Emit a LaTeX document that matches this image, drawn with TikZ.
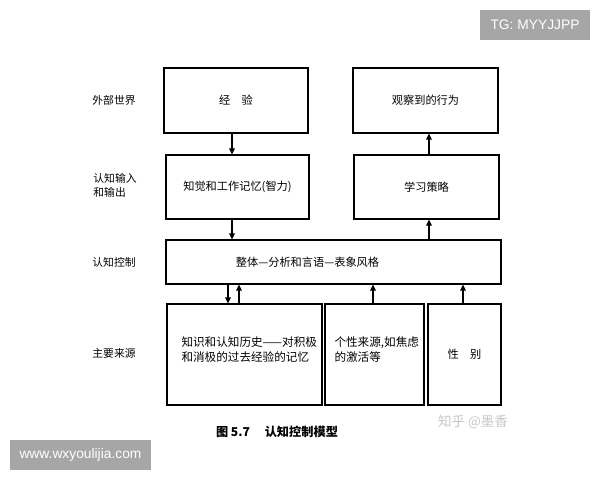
\documentclass[tikz,border=0pt]{standalone}
\usepackage{fontspec}
\newfontfamily\cjk{Noto Sans CJK SC}
\newfontfamily\wm{Liberation Sans}
\usetikzlibrary{arrows.meta,calc}
\tikzset{
  box/.style={draw=black,line width=1.1pt,inner sep=0pt,font=\cjk\fontsize{11.2}{15}\selectfont},
  arr/.style={line width=1.1pt,-{Triangle[length=6pt,width=5.5pt]}},
  lab/.style={font=\cjk\fontsize{10.8}{14}\selectfont,align=left},
  txt/.style={font=\cjk\fontsize{11.6}{15}\selectfont,align=left},
  wmbox/.style={fill=black!35,text=white,inner sep=0pt,font=\wm\fontsize{13.8}{15}\selectfont},
}
\begin{document}
\begin{tikzpicture}[x=1pt,y=-1pt]
\useasboundingbox (0,0) rectangle (600,480);
% boxes
\node[box,minimum width=144pt,minimum height=65pt] (exp) at (236,100.5) {经\hspace{1em}验};
\node[box,minimum width=145pt,minimum height=65pt] (obs) at (425.5,100.5) {观察到的行为};
\node[box,minimum width=143pt,minimum height=64pt] (perc) at (237.5,187) {知觉和工作记忆(智力)};
\node[box,minimum width=145pt,minimum height=64pt] (learn) at (426.5,187) {学习策略};
\node[box,minimum width=335pt,minimum height=44pt] (ctrl) at (333.5,262) {\hspace{-52pt}整体—分析和言语—表象风格};
\node[box,minimum width=155pt,minimum height=101pt] (src1) at (244.5,354.5) {};
\node[box,minimum width=99pt,minimum height=101pt] (src2) at (374.5,354.5) {};
\node[box,minimum width=73pt,minimum height=101pt] (src3) at (464.5,354.5) {性\hspace{1em}别};
\node[txt,anchor=west] (t1) at (178,350) {知识和认知历史——对积极\\和消极的过去经验的记忆};
\node[txt,anchor=west] (t2) at (331,350) {个性来源,如焦虑\\的激活等};
% left labels
\node[lab] (l1) at (114,100) {外部世界};
\node[lab] (l2) at (115,185) {认知输入\\和输出};
\node[lab] (l3) at (114,262) {认知控制};
\node[lab] (l4) at (114,353) {主要来源};
% caption
\node[font=\cjk\fontsize{12.2}{14}\selectfont\bfseries] (cap) at (277,432) {图 5.7\hspace{1.2em}认知控制模型};
\node[font=\cjk\fontsize{13.5}{15}\selectfont,text=black!22] (zh) at (473,422) {知乎 @墨香};
% watermarks
\node[wmbox,minimum width=110pt,minimum height=30pt] (tg) at (535,25) {TG: MYYJJPP};
\node[wmbox,minimum width=141pt,minimum height=30pt] (www) at (80.5,455) {www.wxyoulijia.com};
% arrow x positions
\coordinate (xa) at (232,0);
\coordinate (xb) at (429,0);
\coordinate (xc) at (228,0);
\coordinate (xd) at (239,0);
\coordinate (xe) at (373,0);
\coordinate (xf) at (463,0);
% arrows
\draw[arr] (exp.south -| xa) -- (perc.north -| xa);
\draw[arr] (perc.south -| xa) -- (ctrl.north -| xa);
\draw[arr] (learn.north -| xb) -- (obs.south -| xb);
\draw[arr] (ctrl.north -| xb) -- (learn.south -| xb);
\draw[arr] (ctrl.south -| xc) -- (src1.north -| xc);
\draw[arr] (src1.north -| xd) -- (ctrl.south -| xd);
\draw[arr] (src2.north -| xe) -- (ctrl.south -| xe);
\draw[arr] (src3.north -| xf) -- (ctrl.south -| xf);
\end{tikzpicture}
\end{document}
